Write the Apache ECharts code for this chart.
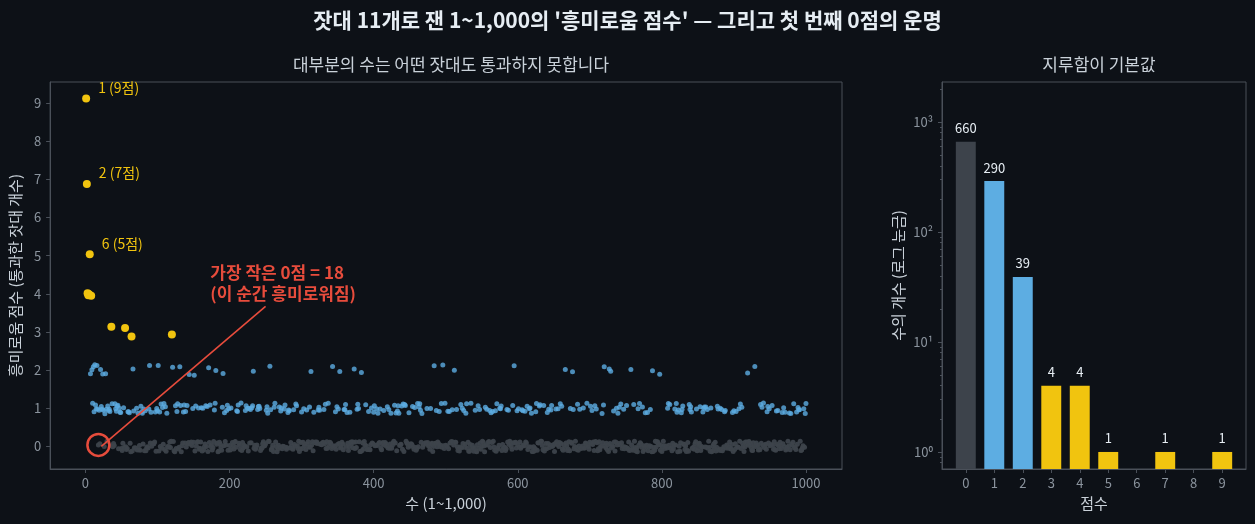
<!DOCTYPE html>
<html><head><meta charset="utf-8">
<script src="https://cdn.jsdelivr.net/npm/echarts@6/dist/echarts.min.js"></script>
<style>html,body{margin:0;padding:0;background:#0d1117;}#c{width:1255px;height:524px;}</style>
</head><body><div id="c"></div>
<script>
// ---- Data: the 11 yardsticks (members within 1..1000) ----
const primes = [2,3,5,7,11,13,17,19,23,29,31,37,41,43,47,53,59,61,67,71,73,79,83,89,97,
101,103,107,109,113,127,131,137,139,149,151,157,163,167,173,179,181,191,193,197,199,
211,223,227,229,233,239,241,251,257,263,269,271,277,281,283,293,
307,311,313,317,331,337,347,349,353,359,367,373,379,383,389,397,
401,409,419,421,431,433,439,443,449,457,461,463,467,479,487,491,499,
503,509,521,523,541,547,557,563,569,571,577,587,593,599,
601,607,613,617,619,631,641,643,647,653,659,661,673,677,683,691,
701,709,719,727,733,739,743,751,757,761,769,773,787,797,
809,811,821,823,827,829,839,853,857,859,863,877,881,883,887,
907,911,919,929,937,941,947,953,967,971,977,983,991,997];
const squares = [1,4,9,16,25,36,49,64,81,100,121,144,169,196,225,256,289,324,361,400,441,484,529,576,625,676,729,784,841,900,961];
const cubes = [1,8,27,64,125,216,343,512,729,1000];
const fibonacci = [1,2,3,5,8,13,21,34,55,89,144,233,377,610,987];
const triangular = [1,3,6,10,15,21,28,36,45,55,66,78,91,105,120,136,153,171,190,210,231,253,276,300,325,351,378,406,435,465,496,528,561,595,630,666,703,741,780,820,861,903,946,990];
const powersOfTwo = [1,2,4,8,16,32,64,128,256,512];
const factorials = [1,2,6,24,120,720];
const palindromes = [1,2,3,4,5,6,7,8,9,11,22,33,44,55,66,77,88,99,
101,111,121,131,141,151,161,171,181,191,
202,212,222,232,242,252,262,272,282,292,
303,313,323,333,343,353,363,373,383,393,
404,414,424,434,444,454,464,474,484,494,
505,515,525,535,545,555,565,575,585,595,
606,616,626,636,646,656,666,676,686,696,
707,717,727,737,747,757,767,777,787,797,
808,818,828,838,848,858,868,878,888,898,
909,919,929,939,949,959,969,979,989,999];
const perfectNumbers = [6,28,496];
const highlyComposite = [1,2,4,6,12,24,36,48,60,120,180,240,360,720,840];
const catalan = [1,2,5,14,42,132,429];

const numberRange = [1, 1000];
const labeledNumbers = [1, 2, 6];
const firstZero = 18;

// ---- Right panel data ----
const scoreCategories = [0,1,2,3,4,5,6,7,8,9];
const scoreCounts = [660,290,39,4,4,1,0,1,0,1];

// ---- Tick values ----
const leftXTicks = [0,200,400,600,800,1000];
const leftYTicks = [0,1,2,3,4,5,6,7,8,9];
const rightYTicks = [1,10,100,1000];
const rightYTickLabels = ['10⁰','10¹','10²','10³'];
const rightYMinorTicks = [0.8,0.9,2,3,4,5,6,7,8,9,20,30,40,50,60,70,80,90,200,300,400,500,600,700,800,900,2000];

// ---- Annotation anchors (data units) ----
const noteText = ['가장 작은 0점 = 18', '(이 순간 흥미로워짐)'];
const noteAnchor = [174, 4.28];
const arrowFrom = [250, 3.67];
const arrowTo = [22, 0.0];

// ---- Build ----
const yardsticks = [primes, squares, cubes, fibonacci, triangular, powersOfTwo, factorials, palindromes, perfectNumbers, highlyComposite, catalan].map(a => new Set(a));
const scoreOf = n => yardsticks.reduce((s, set) => s + (set.has(n) ? 1 : 0), 0);
// small deterministic vertical spread so overlapping dots stay visible
const spread = n => { const s = Math.sin(n * 12.9898) * 43758.5453; return (s - Math.floor(s) - 0.5) * 0.28; };

const gray = [], blue = [], yellow = [];
for (let n = numberRange[0]; n <= numberRange[1]; n++) {
  const sc = scoreOf(n);
  const pt = [n, sc + spread(n), sc];
  if (sc === 0) gray.push(pt); else if (sc <= 2) blue.push(pt); else yellow.push(pt);
}
const zeroPt = gray.find(p => p[0] === firstZero);

const C = {
  bg:'#0d1117', spine:'#4a5059', tick:'#8b949e', text:'#e6edf3', sub:'#c9d1d9',
  gray:'#3d434b', blue:'#5dade2', yellow:'#f1c40f', red:'#e74c3c'
};
const FONT = '"Noto Sans CJK KR", "Noto Sans", sans-serif';

const axisCommon = {
  axisLine:{show:true, onZero:false, lineStyle:{color:C.spine}},
  axisTick:{show:true, length:4, lineStyle:{color:C.spine}},
  splitLine:{show:false},
  axisLabel:{color:C.tick, fontSize:13, fontFamily:FONT},
  nameTextStyle:{color:C.sub, fontSize:15, fontFamily:FONT}
};
const lbl = extra => Object.assign({}, axisCommon.axisLabel, extra);
const tck = extra => Object.assign({}, axisCommon.axisTick, extra);

const chart = echarts.init(document.getElementById('c'), null, {renderer:'canvas'});
const barColor = s => s === 0 ? C.gray : (s <= 2 ? C.blue : C.yellow);

chart.setOption({
  backgroundColor: C.bg,
  animation: false,
  textStyle:{fontFamily:FONT},
  title: [
    {text:"잣대 11개로 잰 1~1,000의 '흥미로움 점수' — 그리고 첫 번째 0점의 운명", left:'center', top:5,
     textStyle:{color:C.text, fontSize:21, fontWeight:'bold', fontFamily:FONT}},
    {text:'대부분의 수는 어떤 잣대도 통과하지 못합니다', left:446, textAlign:'center', top:51,
     textStyle:{color:C.sub, fontSize:17, fontWeight:'normal', fontFamily:FONT}},
    {text:'지루함이 기본값', left:1094, textAlign:'center', top:51,
     textStyle:{color:C.sub, fontSize:17, fontWeight:'normal', fontFamily:FONT}}
  ],
  grid: [
    {left:50, top:82, width:792, height:387, show:true, borderColor:C.spine, borderWidth:1, backgroundColor:'transparent'},
    {left:942, top:82, width:304, height:387, show:true, borderColor:C.spine, borderWidth:1, backgroundColor:'transparent'}
  ],
  xAxis: [
    Object.assign({}, axisCommon, {type:'value', gridIndex:0, min:-49, max:1050,
      name:'수 (1~1,000)', nameLocation:'middle', nameGap:27,
      axisLabel:lbl({customValues:leftXTicks, margin:8, formatter:v => String(v)}),
      axisTick:tck({customValues:leftXTicks})}),
    Object.assign({}, axisCommon, {type:'value', gridIndex:1, min:-0.835, max:9.835,
      name:'점수', nameLocation:'middle', nameGap:27,
      axisLabel:lbl({customValues:scoreCategories, margin:8, formatter:v => String(v)}),
      axisTick:tck({customValues:scoreCategories})})
  ],
  yAxis: [
    Object.assign({}, axisCommon, {type:'value', gridIndex:0, min:-0.59, max:9.55,
      name:'흥미로움 점수 (통과한 잣대 개수)', nameLocation:'middle', nameGap:24,
      axisLabel:lbl({customValues:leftYTicks, margin:9, formatter:v => String(v)}),
      axisTick:tck({customValues:leftYTicks})}),
    Object.assign({}, axisCommon, {type:'log', logBase:10, gridIndex:1, min:0.7, max:2310,
      name:'수의 개수 (로그 눈금)', nameLocation:'middle', nameGap:36,
      axisLabel:lbl({customValues:rightYTicks, margin:9,
        formatter:v => rightYTickLabels[rightYTicks.indexOf(Math.round(v))] || ''}),
      axisTick:tck({customValues:rightYTicks})}),
    {type:'log', logBase:10, gridIndex:1, min:0.7, max:2310, position:'left',
      axisLine:{show:false, onZero:false}, splitLine:{show:false},
      axisLabel:{show:false, customValues:rightYMinorTicks},
      axisTick:{show:true, length:2, lineStyle:{color:C.spine}, customValues:rightYMinorTicks}}
  ],
  series: [
    {type:'scatter', xAxisIndex:0, yAxisIndex:0, data:gray, symbolSize:5,
      itemStyle:{color:C.gray, opacity:0.95}, z:2},
    {type:'scatter', xAxisIndex:0, yAxisIndex:0, data:blue, symbolSize:5,
      itemStyle:{color:C.blue, opacity:0.8}, z:3},
    {type:'scatter', xAxisIndex:0, yAxisIndex:0, data:yellow, symbolSize:8,
      itemStyle:{color:C.yellow, opacity:1}, z:4,
      label:{show:true, position:'right', offset:[3,-11], color:C.yellow, fontSize:14, fontFamily:FONT,
        formatter:p => labeledNumbers.includes(p.value[0]) ? `${p.value[0]} (${p.value[2]}점)` : ''}},
    {type:'scatter', xAxisIndex:0, yAxisIndex:0, data:[[zeroPt[0], zeroPt[1]]], symbolSize:22,
      itemStyle:{color:'transparent', borderColor:C.red, borderWidth:2.5, opacity:1}, z:5, silent:true},
    {type:'scatter', xAxisIndex:0, yAxisIndex:0, data:[noteAnchor], symbolSize:1,
      itemStyle:{color:'transparent', opacity:1}, z:6, silent:true,
      label:{show:true, position:[0,0], align:'left', verticalAlign:'middle', color:C.red,
        fontSize:17, fontWeight:'bold', lineHeight:21, fontFamily:FONT, formatter:noteText.join('\n')},
      markLine:{silent:true, symbol:['none','arrow'], symbolSize:[0,10], label:{show:false},
        lineStyle:{color:C.red, width:1.6, type:'solid', opacity:1},
        data:[[{coord:arrowFrom}, {coord:arrowTo}]]}},
    {type:'custom', xAxisIndex:1, yAxisIndex:1,
      data:scoreCategories.map((s,i) => [s, scoreCounts[i]]).filter(d => d[1] > 0),
      renderItem:(params, api) => {
        const x = api.value(0), v = api.value(1);
        const top = api.coord([x, v]);
        const bot = api.coord([x, 0.7]);
        const l = api.coord([x - 0.35, v])[0], r = api.coord([x + 0.35, v])[0];
        return {type:'group', children:[
          {type:'rect', shape:{x:l, y:top[1], width:r-l, height:bot[1]-top[1]}, style:{fill:barColor(x)}},
          {type:'text', x:top[0], y:top[1]-7, style:{text:String(v), textAlign:'center', textVerticalAlign:'bottom',
            fill:C.text, fontSize:13, fontFamily:FONT}}
        ]};
      }}
  ]
});
</script></body></html>
